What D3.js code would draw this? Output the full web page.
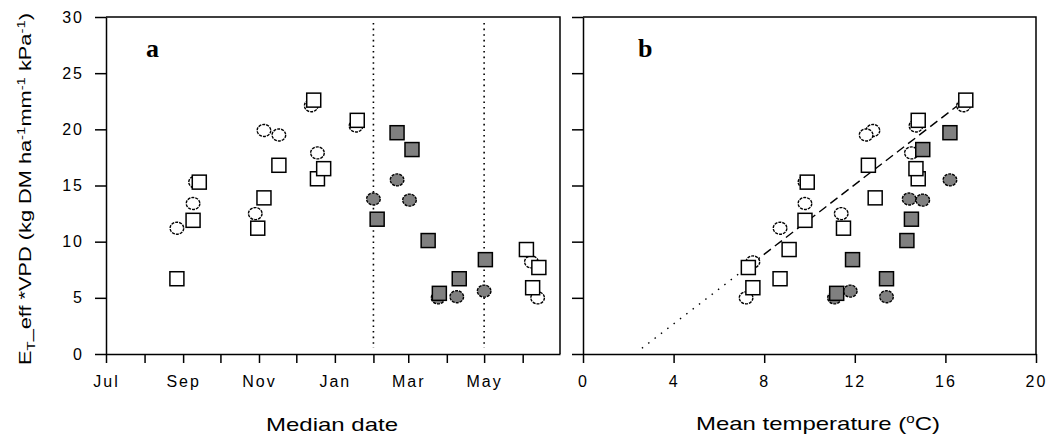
<!DOCTYPE html>
<html lang="en">
<head>
<meta charset="UTF-8">
<script src="https://d3js.org/d3.v7.min.js"></script>
<title>ET_eff * VPD</title>
<style>
  html, body { margin: 0; padding: 0; background: #fff; }
  svg { display: block; }
  text { font-family: 'Liberation Sans', Arial, sans-serif; fill: #000; }
  .tick text { font-size: 16px; letter-spacing: 2px; }
  .axis path, .axis line { stroke: #000; stroke-width: 1.5px; }
  .frame { stroke: #000; stroke-width: 1.5px; fill: none; }
  .panel-letter { font-family: 'Liberation Serif', 'Times New Roman', serif; font-weight: bold; font-size: 26px; }
  .axis-title { font-size: 19px; }
</style>
</head>
<body>
<svg id="chart"></svg>
<script>
// ---- data ----
// open squares
const openSquareDates = ['2000-08-27','2000-09-09','2000-09-14','2000-10-31','2000-11-05','2000-11-17',
  '2000-12-15','2000-12-18','2000-12-23','2001-01-19','2001-06-04','2001-06-09','2001-06-14']
const openSquareValues = [6.7, 11.9, 15.3, 11.2, 13.9, 16.8, 22.6, 15.6, 16.5, 20.8, 9.3, 5.9, 7.7]
const openSquareTemps  = [8.7, 9.8, 9.9, 11.5, 12.9, 12.6, 16.9, 14.8, 14.7, 14.8, 9.1, 7.5, 7.3]

// open circles
const openCircleDates = ['2000-08-27','2000-09-09','2000-09-11','2000-10-29','2000-11-05','2000-11-17',
  '2000-12-13','2000-12-18','2001-01-18','2001-06-08','2001-06-13']
const openCircleValues = [11.2, 13.4, 15.3, 12.5, 19.9, 19.5, 22.1, 17.9, 20.3, 8.2, 5.0]
const openCircleTemps  = [8.7, 9.8, 9.8, 11.4, 12.8, 12.5, 16.8, 14.5, 14.7, 7.5, 7.2]

// grey squares
const greySquareDates = ['2001-02-04','2001-02-20','2001-03-04','2001-03-17','2001-03-26','2001-04-11','2001-05-02']
const greySquareValues = [12.0, 19.7, 18.2, 10.1, 5.4, 6.7, 8.4]
const greySquareTemps  = [14.5, 16.2, 15.0, 14.3, 11.2, 13.4, 11.9]

// grey circles
const greyCircleDates = ['2001-02-01','2001-02-20','2001-03-02','2001-03-25','2001-04-09','2001-05-01']
const greyCircleValues = [13.8, 15.5, 13.7, 5.0, 5.1, 5.6]
const greyCircleTemps  = [14.4, 16.2, 15.0, 11.1, 13.4, 11.8]

// axes
const yTicks = [0, 5, 10, 15, 20, 25, 30]
const tempTicks = [0, 4, 8, 12, 16, 20]
const monthLabels = ['Jul', 'Sep', 'Nov', 'Jan', 'Mar', 'May']
const dateStart = '2000-07-01'
const dateEnd = '2001-07-01'
const seasonBreaks = ['2001-02-01', '2001-05-01']

// regression line in panel b
const fitSlope = 1.55
const fitIntercept = -3.52
const fitDotted = [2.6, 7.0]
const fitDashed = [7.0, 17.0]

// ---- drawing ----
const width = 1048
const height = 436
const plotTop = 17
const plotBottom = 354
const aLeft = 106, aRight = 560
const bLeft = 583, bRight = 1036

const parse = d3.timeParse('%Y-%m-%d')
const svg = d3.select('#chart').attr('width', width).attr('height', height)

const yScale = d3.scaleLinear().domain([0, 30]).range([plotBottom, plotTop])
const xDate = d3.scaleTime().domain([parse(dateStart), parse(dateEnd)]).range([aLeft, aRight])
const xTemp = d3.scaleLinear().domain([0, 20]).range([bLeft, bRight])

const greyFill = '#808080'

let zipSeries = (dates, temps, values) => values.map((v, i) => ({
  date: parse(dates[i]), temp: temps[i], value: v
}))

const series = [
  { kind: 'circle', fill: '#fff', data: zipSeries(openCircleDates, openCircleTemps, openCircleValues) },
  { kind: 'circle', fill: greyFill, data: zipSeries(greyCircleDates, greyCircleTemps, greyCircleValues) },
  { kind: 'square', fill: '#fff', data: zipSeries(openSquareDates, openSquareTemps, openSquareValues) },
  { kind: 'square', fill: greyFill, data: zipSeries(greySquareDates, greySquareTemps, greySquareValues) }
]

// frames (top and right edge)
let drawFrame = (l, r) => {
  svg.append('path').attr('class', 'frame')
    .attr('d', `M${l},${plotTop}H${r}V${plotBottom}`)
}
drawFrame(aLeft, aRight)
drawFrame(bLeft, bRight)

// season breaks in panel a
svg.selectAll('.season')
  .data(seasonBreaks)
  .enter()
  .append('line')
  .attr('x1', d => xDate(parse(d)))
  .attr('x2', d => xDate(parse(d)))
  .attr('y1', plotTop + 6)
  .attr('y2', plotBottom - 6)
  .attr('stroke', '#000')
  .attr('stroke-width', 1.6)
  .attr('stroke-dasharray', '1.6,4')

// regression line panel b
let fitLine = (range, dash) => {
  svg.append('line')
    .attr('x1', xTemp(range[0])).attr('y1', yScale(fitSlope * range[0] + fitIntercept))
    .attr('x2', xTemp(range[1])).attr('y2', yScale(fitSlope * range[1] + fitIntercept))
    .attr('stroke', '#000')
    .attr('stroke-width', 1.4)
    .attr('stroke-dasharray', dash)
}
fitLine(fitDotted, '1.5,6.5')
fitLine(fitDashed, '9,5')

// markers
let drawMarkers = (xAcc) => {
  series.forEach(s => {
    const g = svg.append('g')
    if (s.kind === 'circle') {
      g.selectAll('ellipse')
        .data(s.data)
        .enter()
        .append('ellipse')
        .attr('cx', xAcc)
        .attr('cy', d => yScale(d.value))
        .attr('rx', 6.8)
        .attr('ry', 6)
        .attr('fill', s.fill)
        .attr('stroke', '#000')
        .attr('stroke-width', 1.4)
        .attr('stroke-dasharray', '3,1')
    } else {
      g.selectAll('rect')
        .data(s.data)
        .enter()
        .append('rect')
        .attr('x', d => xAcc(d) - 7)
        .attr('y', d => yScale(d.value) - 7)
        .attr('width', 14)
        .attr('height', 14)
        .attr('fill', s.fill)
        .attr('stroke', '#000')
        .attr('stroke-width', 1.5)
    }
  })
}
drawMarkers(d => xDate(d.date))
drawMarkers(d => xTemp(d.temp))

// axes
const monthTicks = d3.timeMonth.range(parse(dateStart), parse(dateEnd))
const monthFmt = d3.timeFormat('%b')

svg.append('g').attr('class', 'axis')
  .attr('transform', `translate(${aLeft},0)`)
  .call(d3.axisLeft(yScale).tickValues(yTicks).tickSize(11).tickSizeOuter(0).tickPadding(11))

svg.append('g').attr('class', 'axis')
  .attr('transform', `translate(${bLeft},0)`)
  .call(d3.axisLeft(yScale).tickValues(yTicks).tickSize(11).tickSizeOuter(0).tickFormat(''))

svg.append('g').attr('class', 'axis')
  .attr('transform', `translate(0,${plotBottom})`)
  .call(d3.axisBottom(xDate).tickValues(monthTicks).tickSize(9).tickSizeOuter(0).tickPadding(13)
    .tickFormat(d => monthLabels.includes(monthFmt(d)) ? monthFmt(d) : ''))

svg.append('g').attr('class', 'axis')
  .attr('transform', `translate(0,${plotBottom})`)
  .call(d3.axisBottom(xTemp).tickValues(tempTicks).tickSize(9).tickSizeOuter(0).tickPadding(13))

svg.selectAll('.axis').attr('font-family', null).attr('font-size', null)

// panel letters
svg.append('text').attr('class', 'panel-letter').attr('x', 146).attr('y', 57).text('a')
svg.append('text').attr('class', 'panel-letter').attr('x', 638).attr('y', 57).text('b')

// axis titles
svg.append('text').attr('class', 'axis-title')
  .attr('x', 332).attr('y', 431).attr('text-anchor', 'middle')
  .attr('textLength', 132).attr('lengthAdjust', 'spacingAndGlyphs')
  .text('Median date')

const tTitle = svg.append('text').attr('class', 'axis-title')
  .attr('x', 696).attr('y', 430)
  .attr('textLength', 244).attr('lengthAdjust', 'spacingAndGlyphs')
tTitle.append('tspan').text('Mean temperature (')
tTitle.append('tspan').attr('font-size', 12).attr('dy', -7).text('o')
tTitle.append('tspan').attr('dy', 7).text('C)')

const yTitle = svg.append('text').attr('class', 'axis-title')
  .attr('transform', 'translate(31,365) rotate(-90)')
  .attr('textLength', 352).attr('lengthAdjust', 'spacingAndGlyphs')
  .style('font-size', '16px')
yTitle.append('tspan').text('E')
yTitle.append('tspan').attr('font-size', 11).attr('dy', 4).text('T')
yTitle.append('tspan').attr('dy', -4).text('_eff *VPD (kg DM ha')
yTitle.append('tspan').attr('font-size', 11).attr('dy', -6).text('-1')
yTitle.append('tspan').attr('dy', 6).text('mm')
yTitle.append('tspan').attr('font-size', 11).attr('dy', -6).text('-1')
yTitle.append('tspan').attr('dy', 6).text(' kPa')
yTitle.append('tspan').attr('font-size', 11).attr('dy', -6).text('-1')
yTitle.append('tspan').attr('dy', 6).text(')')
</script>
</body>
</html>
